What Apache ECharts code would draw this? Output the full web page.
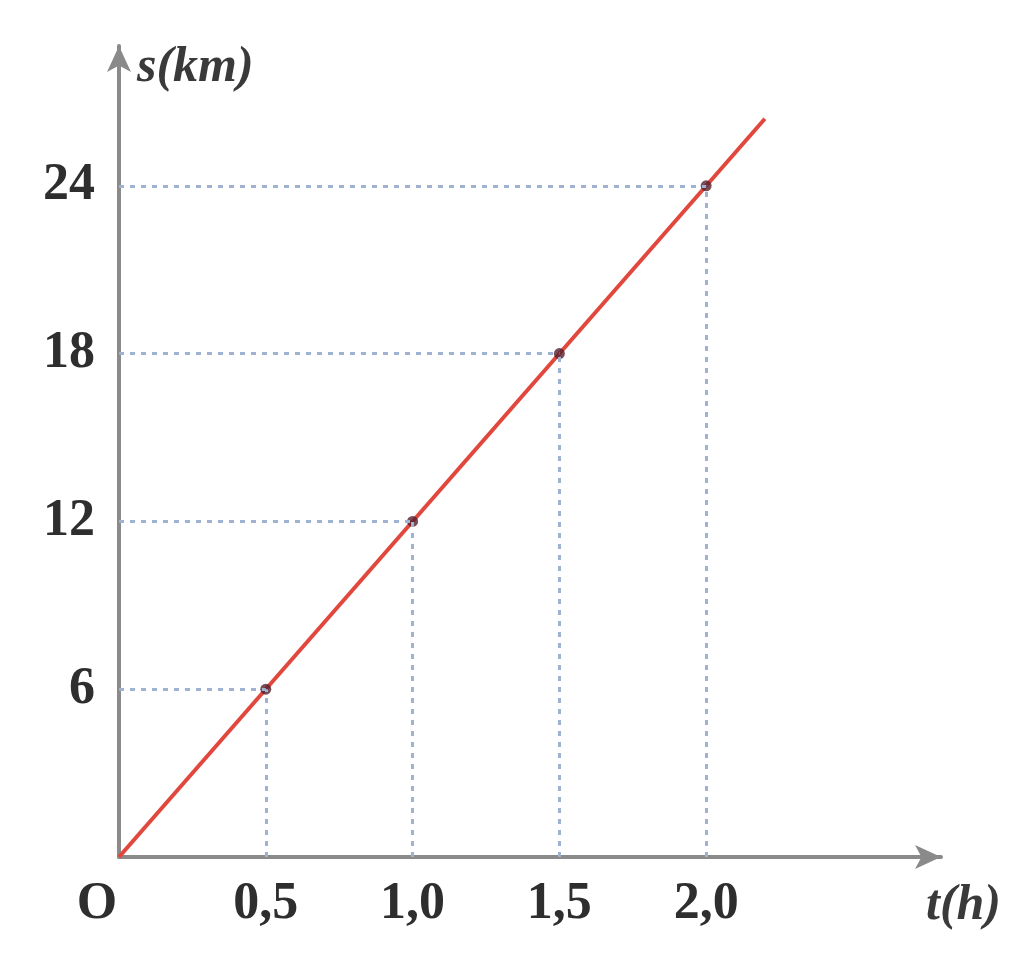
<!DOCTYPE html>
<html>
<head>
<meta charset="utf-8">
<script src="https://cdn.jsdelivr.net/npm/echarts@6/dist/echarts.min.js"></script>
<style>html,body{margin:0;padding:0;background:#fff}#c{width:1024px;height:976px}</style>
</head>
<body>
<div id="c"></div>
<script>
// Data
const times = [0.5, 1.0, 1.5, 2.0];          // t (h)
const distances = [6, 12, 18, 24];            // s (km)
const lineT = [0, 2.2];                        // red line extent (h)
const lineS = [0, 26.4];                       // red line extent (km)
const xTickLabels = ['O', '0,5', '1,0', '1,5', '2,0'];
const yTickLabels = ['', '6', '12', '18', '24'];

const chart = echarts.init(document.getElementById('c'));
const guideData = [];
times.forEach((t, i) => {
  const s = distances[i];
  guideData.push([{coord: [0, s]}, {coord: [t, s]}]);
  guideData.push([{coord: [t, 0]}, {coord: [t, s]}]);
});
const labelFont = {fontFamily: 'Liberation Serif', fontWeight: 'bold', fontSize: 52, color: '#2e2e2e'};
chart.setOption({
  animation: false,
  backgroundColor: '#fff',
  grid: {left: 119, top: 46, right: 83, bottom: 119},
  xAxis: {
    type: 'value', min: 0, max: 2.8, interval: 0.5,
    name: 't(h)',
    nameLocation: 'end', nameGap: 60,
    nameTextStyle: {fontFamily: 'Liberation Serif', fontStyle: 'italic', fontWeight: 'bold', fontSize: 50, color: '#3a3a3a', align: 'right', verticalAlign: 'top', padding: [24, 0, 0, 0]},
    axisLine: {show: true, symbol: ['none', 'arrow'], symbolSize: [18, 26], lineStyle: {color: '#8a8a8a', width: 4}},
    axisTick: {show: false},
    splitLine: {show: false},
    axisLabel: Object.assign({
      margin: 22, showMaxLabel: false,
      formatter: v => {
        const i = Math.round(v / 0.5);
        if (i === 0) return '{o|O}';
        return xTickLabels[i] !== undefined ? xTickLabels[i] : '';
      },
      rich: {o: Object.assign({padding: [0, 44, 0, 0]}, labelFont)}
    }, labelFont)
  },
  yAxis: {
    type: 'value', min: 0, max: 29, interval: 6,
    name: 's(km)',
    nameLocation: 'end', nameGap: -22,
    nameTextStyle: {fontFamily: 'Liberation Serif', fontStyle: 'italic', fontWeight: 'bold', fontSize: 50, color: '#3a3a3a', align: 'left', verticalAlign: 'middle', padding: [0, 0, 0, 18]},
    axisLine: {show: true, symbol: ['none', 'arrow'], symbolSize: [18, 26], lineStyle: {color: '#8a8a8a', width: 4}},
    axisTick: {show: false},
    splitLine: {show: false},
    axisLabel: Object.assign({
      margin: 24, showMaxLabel: false,
      formatter: v => {
        const i = Math.round(v / 6);
        return yTickLabels[i] !== undefined ? yTickLabels[i] : '';
      }
    }, labelFont)
  },
  series: [
    {
      type: 'line',
      data: lineT.map((t, i) => [t, lineS[i]]),
      showSymbol: false,
      lineStyle: {color: '#e2473d', width: 4},
      z: 3,
      markLine: {
        silent: true,
        symbol: ['none', 'none'],
        label: {show: false},
        lineStyle: {color: '#9fb2d2', type: [5, 6], width: 3},
        data: guideData
      }
    },
    {
      type: 'scatter',
      data: times.map((t, i) => [t, distances[i]]),
      symbolSize: 11,
      itemStyle: {color: '#55202e'},
      z: 4
    }
  ]
});
</script>
</body>
</html>
